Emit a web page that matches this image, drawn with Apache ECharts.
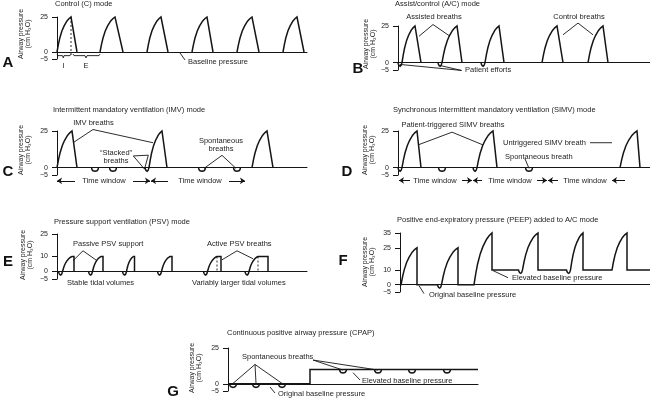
<!DOCTYPE html>
<html>
<head>
<meta charset="utf-8">
<script src="https://cdn.jsdelivr.net/npm/echarts@6/dist/echarts.min.js"></script>
<style>
html, body { margin: 0; background: #fff; }
#chart { width: 650px; height: 399px; }
</style>
</head>
<body>
<div id="chart"></div>
<script>
// ---- data (time in panel units, pressure in cm H2O) ----
// rise of a breath: [fraction of rise time, fraction of pressure rise]
var riseShape = [[0, 0], [0.1, 0.22], [0.2, 0.4], [0.35, 0.6], [0.5, 0.74], [0.7, 0.88], [0.85, 0.95], [1, 1]];
// patient effort just before a triggered rise: [time offset, pressure offset]
var trigDip = [[-4, 0], [-3.5, -1.2], [-2.8, -2], [-1.8, -2.4], [-0.8, -1.7]];
// spontaneous breath around its centre
var spontDip = [[-3.5, 0], [-3, -1.3], [-2, -2.1], [0, -2.5], [2, -2.1], [3, -1.3], [3.5, 0]];

var peakPressure = 25;
// [rise start, peak time, end time, patient triggered]
var aBreaths = [[0, 14, 20, 0], [43, 58, 66, 0], [90, 104, 111, 0], [135, 150, 156, 0], [180, 195, 202, 0], [226, 240, 247, 0]];
var bBreaths = [[4, 17, 23, 1], [44, 59, 64, 1], [87, 101, 106, 1], [144, 159, 165, 0], [190, 205, 210, 0]];
var cBreaths = [[0, 15, 20, 0], [92, 105, 110, 1], [195, 210, 216, 0]];
var cSpont = [38, 56, 145, 180];
var dBreaths = [[4, 19, 23, 1], [79, 95, 99, 1], [222, 239, 242, 0]];
var dSpont = [44, 131];
// PSV: [rise start, reaches support level, drop]
var psvLevel = 10;
var eBreaths = [[5.5, 15, 17], [35.5, 44, 46], [69.5, 76.5, 77.5], [104.5, 113, 115], [150.5, 160, 164], [192, 201, 211]];
var eActive = [160, 201];
// PEEP: [rise start, peak time, start level, peak level, level after, triggered]
var fBreaths = [[1, 17, 0, 25, 0, 0], [41.5, 58, 0, 25, 0, 1], [74, 92, 0, 35, 10, 0],
                [122.5, 138, 10, 35, 10, 1], [170.5, 183, 10, 35, 10, 1], [212, 227, 10, 35, 10, 0]];
// CPAP: baseline step [time, level], spontaneous breaths on each level
var gStep = [82, 10];
var gSpont0 = [5, 28, 54];
var gSpont10 = [115, 150, 184, 219];

var ticksStd = [-5, 0, 25];
var ticksPsv = [-5, 0, 10, 25];
var ticksPeep = [-5, 0, 10, 25, 35];

// ---- layout ----
var INK = '#151515';
var FONT = 'Liberation Sans';
var panels = [
  { left: 57, top: 17, width: 250, height: 42, max: 25, ticks: ticksStd },
  { left: 398, top: 26, width: 252, height: 44, max: 25, ticks: ticksStd },
  { left: 57, top: 131, width: 250, height: 44, max: 25, ticks: ticksStd },
  { left: 398, top: 131, width: 252, height: 44, max: 25, ticks: ticksStd },
  { left: 57, top: 234, width: 250, height: 45, max: 25, ticks: ticksPsv },
  { left: 400, top: 233, width: 250, height: 59, max: 35, ticks: ticksPeep },
  { left: 228, top: 348, width: 250, height: 43, max: 25, ticks: ticksStd }
];

function rise(t0, t1, p0, p1) {
  return riseShape.map(function (s) { return [t0 + s[0] * (t1 - t0), p0 + s[1] * (p1 - p0)]; });
}
function shift(shape, t, p) {
  return shape.map(function (s) { return [t + s[0], p + s[1]]; });
}
function mandatory(list) {
  return list.map(function (b) {
    var pts = b[3] ? shift(trigDip, b[0], 0) : [];
    return pts.concat(rise(b[0], b[1], 0, peakPressure), [[b[2], 0]]);
  });
}
function dips(list, level) {
  return list.map(function (c) { return shift(spontDip, c, level); });
}

var waves = [];
waves[0] = mandatory(aBreaths);
waves[1] = mandatory(bBreaths);
waves[2] = mandatory(cBreaths).concat(dips(cSpont, 0));
waves[3] = mandatory(dBreaths).concat(dips(dSpont, 0));
waves[4] = eBreaths.map(function (b) {
  return shift(trigDip, b[0], 0).concat(rise(b[0], b[1], 0, psvLevel), [[b[2], psvLevel], [b[2], 0]]);
});
var fWave = [[0, 0]];
fBreaths.forEach(function (b) {
  fWave = fWave.concat(b[5] ? shift(trigDip, b[0], b[2]) : [], rise(b[0], b[1], b[2], b[3]), [[b[1], b[4]]]);
});
fWave.push([panels[5].width, fBreaths[fBreaths.length - 1][4]]);
waves[5] = [fWave];
waves[6] = [[[0, 0], [gStep[0], 0], [gStep[0], gStep[1]], [panels[6].width, gStep[1]]]]
  .concat(dips(gSpont0, 0), dips(gSpont10, gStep[1]));

// annotation leaders, in each panel's own units
var leaders = [
  [[[123, -0.7], [128, -5.7]],
   [[0, -1.5], [1, -2.6], [5.5, -2.6], [6.3, -4.2], [7, -2.6], [13, -2.6], [14, -1.5]],
   [[16, -1.5], [17, -2.6], [28, -2.6], [29, -4.2], [30, -2.6], [42, -2.6], [43, -1.5]]],
  [[[21, 18], [35, 26], [52, 18]], [[165, 19], [180, 27], [195, 19]],
   [[2, -1.2], [63.5, -5.3]], [[42, -1.9], [63.5, -5.3]]],
  [[[16, 17], [36, 26], [96, 17]], [[76.3, 8], [91.3, 8.5], [87.5, -1], [76.3, 8]],
   [[147, -0.5], [165, 8.4], [179, -0.5]]],
  [[[20, 15.5], [54, 24.2], [85, 15.5]], [[192, 17], [214, 17]], [[127, 6], [131, -0.5]]],
  [[[16, 7.2], [26, 13.8], [40, 7.2]], [[165, 7.8], [180, 13.8], [196, 8.5]]],
  [[[19, -0.7], [24, -6.1]], [[93, 9.5], [108, 4.7]]],
  [[[5, 0.3], [27, 13.5]], [[28, 0.3], [27, 13.5]], [[54, 0.3], [27, 13.5]],
   [[85, 16.6], [115, 9.6]], [[85, 16.6], [150, 9.6]],
   [[125, 7.8], [132, 2.7]], [[42, -2.2], [47, -6.4]]]
];
var dashed = [
  [[[14, 25], [14, -2]]], [], [], [],
  eActive.map(function (t) { return [[t, psvLevel], [t, 0]]; }), [], []
];
var arrows = [
  [], [],
  [[[18, -9], [0, -9]], [[76, -9], [93, -9]], [[111, -9], [94, -9]], [[172, -9], [188, -9]]],
  [[[12, -8.7], [1, -8.7]], [[64, -8.7], [74, -8.7]], [[84, -8.7], [75, -8.7]],
   [[139, -8.7], [149, -8.7]], [[160, -8.7], [150, -8.7]], [[227, -8.7], [214, -8.7]]],
  [], [], []
];

var grids = [], xAxes = [], yAxes = [], series = [];
panels.forEach(function (p, i) {
  grids.push({ left: p.left, top: p.top, width: p.width, height: p.height });
  xAxes.push({
    gridIndex: i, type: 'value', min: 0, max: p.width,
    axisLine: { onZero: true, lineStyle: { color: INK, width: 1 } },
    axisTick: { show: false }, axisLabel: { show: false }, splitLine: { show: false }
  });
  yAxes.push({
    gridIndex: i, type: 'value', min: -5, max: p.max,
    axisLine: { show: true, onZero: false, lineStyle: { color: INK, width: 1 } },
    axisTick: { show: true, length: 5, customValues: p.ticks, lineStyle: { color: INK } },
    axisLabel: {
      customValues: p.ticks, fontSize: 7, fontFamily: FONT, color: '#222', margin: 9,
      formatter: function (v) { return v < 0 ? '\u2212' + (-v) : String(v); }
    },
    splitLine: { show: false }
  });
  function lines(data, style, extra) {
    var s = {
      type: 'lines', coordinateSystem: 'cartesian2d', xAxisIndex: i, yAxisIndex: i,
      polyline: true, clip: false, silent: true,
      lineStyle: Object.assign({ color: INK, width: 1, opacity: 1, curveness: 0 }, style),
      data: data.map(function (c) { return { coords: c }; })
    };
    return Object.assign(s, extra || {});
  }
  series.push(lines(waves[i], { width: 1.5 }));
  series.push(lines(leaders[i], { width: 0.9 }));
  if (dashed[i].length) series.push(lines(dashed[i], { width: 0.9, type: [2, 2] }));
  if (arrows[i].length) series.push(lines(arrows[i], { width: 1 }, { polyline: false, symbol: ['none', 'arrow'], symbolSize: 5 }));
});

// ---- text ----
var texts = [
  ['Control (C) mode', 55, 4], ['Assist/control (A/C) mode', 395, 4],
  ['Intermittent mandatory ventilation (IMV) mode', 53, 110],
  ['Synchronous intermittent mandatory ventilation (SIMV) mode', 393, 110],
  ['Pressure support ventilation (PSV) mode', 54, 222],
  ['Positive end-expiratory pressure (PEEP) added to A/C mode', 397, 220],
  ['Continuous positive airway pressure (CPAP)', 227, 333],
  ['Baseline pressure', 188, 62], ['I', 63.5, 66, 'c'], ['E', 86, 66, 'c'],
  ['Assisted breaths', 434, 17, 'c'], ['Control breaths', 579, 17, 'c'], ['Patient efforts', 465, 70],
  ['IMV breaths', 93.5, 123, 'c'], ['\u201cStacked\u201d\nbreaths', 116, 156.5, 'c'],
  ['Spontaneous\nbreaths', 221, 145, 'c'], ['Time window', 104, 181, 'c'], ['Time window', 200, 181, 'c'],
  ['Patient-triggered SIMV breaths', 453, 125, 'c'], ['Untriggered SIMV breath', 503, 143],
  ['Spontaneous breath', 505, 157], ['Time window', 435, 181, 'c'], ['Time window', 510, 181, 'c'],
  ['Time window', 585, 181, 'c'],
  ['Passive PSV support', 73, 244], ['Active PSV breaths', 207, 244],
  ['Stable tidal volumes', 67, 283], ['Variably larger tidal volumes', 192, 283],
  ['Original baseline pressure', 429, 295], ['Elevated baseline pressure', 512, 278],
  ['Spontaneous breaths', 242, 357], ['Elevated baseline pressure', 362, 381],
  ['Original baseline pressure', 278, 394]
];
var letters = [['A', 8, 63], ['B', 358, 69], ['C', 8, 172], ['D', 347, 172], ['E', 8, 262], ['F', 343, 261], ['G', 173, 392]];
var axisNames = [[25, 34], [370, 44], [25, 150], [369, 150], [27, 255], [369, 262], [196, 368]];

var graphic = [];
texts.forEach(function (t) {
  graphic.push({
    type: 'text', x: t[1], y: t[2], silent: true,
    style: {
      text: t[0], fontSize: 7.5, fontFamily: FONT, fill: '#1e1e1e', lineHeight: 8,
      align: t[3] ? 'center' : 'left', verticalAlign: 'middle',
      textAlign: t[3] ? 'center' : 'left', textVerticalAlign: 'middle'
    }
  });
});
letters.forEach(function (t) {
  graphic.push({
    type: 'text', x: t[1], y: t[2], silent: true,
    style: {
      text: t[0], fontSize: 15, fontWeight: 'bold', fontFamily: FONT, fill: '#111',
      align: 'center', verticalAlign: 'middle', textAlign: 'center', textVerticalAlign: 'middle'
    }
  });
});
axisNames.forEach(function (t) {
  graphic.push({
    type: 'text', x: t[0], y: t[1], rotation: Math.PI / 2, silent: true,
    style: {
      text: 'Airway pressure\n(cm H\u2082O)', fontSize: 7, fontFamily: FONT, fill: '#222', lineHeight: 7,
      align: 'center', verticalAlign: 'middle', textAlign: 'center', textVerticalAlign: 'middle'
    }
  });
});

var chart = echarts.init(document.getElementById('chart'));
chart.setOption({
  animation: false,
  backgroundColor: '#fff',
  grid: grids,
  xAxis: xAxes,
  yAxis: yAxes,
  series: series,
  graphic: graphic
});
</script>
</body>
</html>
